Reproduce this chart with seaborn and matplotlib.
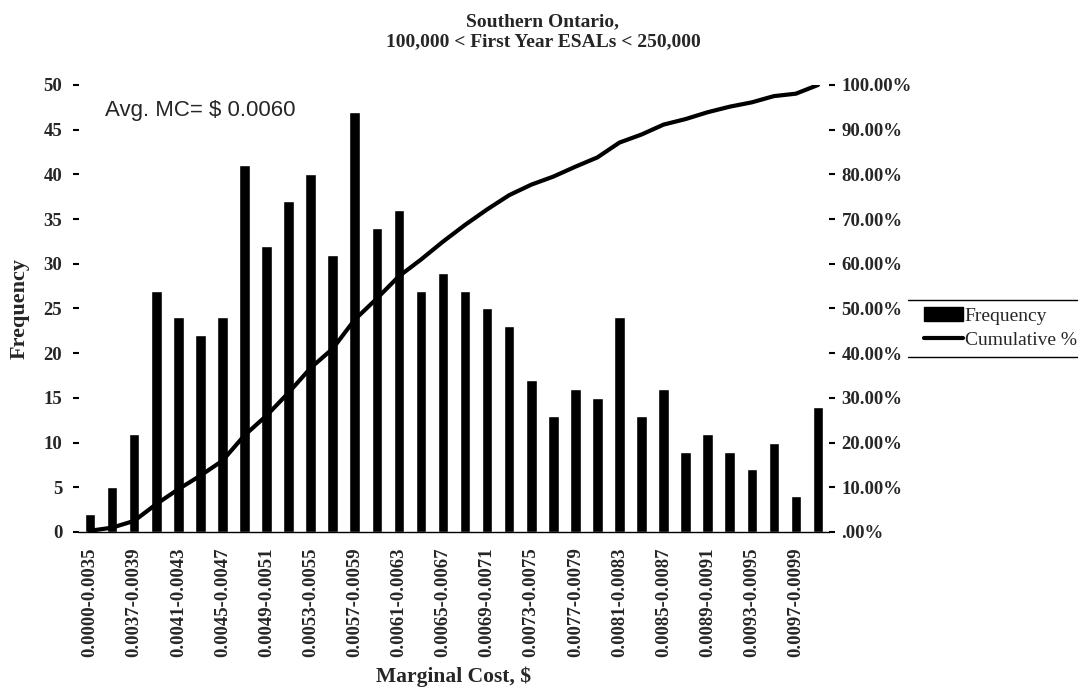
import matplotlib
matplotlib.use("Agg")
import matplotlib.pyplot as plt
import seaborn as sns
import numpy as np
import pandas as pd
from matplotlib.patches import Patch
from matplotlib.lines import Line2D
from matplotlib.ticker import FuncFormatter

# bins of marginal cost ($)
bins = ["0.0000-0.0035", "0.0035-0.0037", "0.0037-0.0039", "0.0039-0.0041",
        "0.0041-0.0043", "0.0043-0.0045", "0.0045-0.0047", "0.0047-0.0049",
        "0.0049-0.0051", "0.0051-0.0053", "0.0053-0.0055", "0.0055-0.0057",
        "0.0057-0.0059", "0.0059-0.0061", "0.0061-0.0063", "0.0063-0.0065",
        "0.0065-0.0067", "0.0067-0.0069", "0.0069-0.0071", "0.0071-0.0073",
        "0.0073-0.0075", "0.0075-0.0077", "0.0077-0.0079", "0.0079-0.0081",
        "0.0081-0.0083", "0.0083-0.0085", "0.0085-0.0087", "0.0087-0.0089",
        "0.0089-0.0091", "0.0091-0.0093", "0.0093-0.0095", "0.0095-0.0097",
        "0.0097-0.0099", "0.0099-0.0101"]

frequency = [2, 5, 11, 27, 24, 22, 24, 41, 32, 37, 40, 31, 47, 34, 36, 27, 29,
             27, 25, 23, 17, 13, 16, 15, 24, 13, 16, 9, 11, 9, 7, 10, 4, 14]

cumulative_pct = [0.28, 0.97, 2.49, 6.23, 9.56, 12.60, 15.93, 21.61, 26.04,
                  31.16, 36.70, 41.00, 47.51, 52.22, 57.20, 60.94, 64.96,
                  68.70, 72.16, 75.35, 77.70, 79.50, 81.72, 83.80, 87.12,
                  88.92, 91.14, 92.38, 93.91, 95.15, 96.12, 97.51, 98.06, 100.00]

df = pd.DataFrame({"bin": bins, "freq": frequency, "cum": cumulative_pct})

sns.set_style("white")
plt.rcParams["font.family"] = ["Liberation Serif", "DejaVu Serif"]

fig = plt.figure(figsize=(10.78, 6.93), dpi=100)
ax = fig.add_axes([79 / 1078, 1 - 532 / 693, (829 - 79) / 1078, (532 - 85) / 693])

sns.barplot(data=df, x="bin", y="freq", color="black", saturation=1,
            width=0.48, ax=ax)
ax.set_xlim(-0.5, len(bins) - 0.5)
ax.set_ylim(0, 50)
ax.set_yticks(range(0, 51, 5))

# cumulative % on secondary axis
ax2 = ax.twinx()
sns.lineplot(x=np.arange(len(bins)), y=df["cum"], color="black", linewidth=3,
             ax=ax2)
ax2.set_ylim(0, 100)
ax2.set_yticks(range(0, 101, 10))
ax2.yaxis.set_major_formatter(FuncFormatter(
    lambda v, p: ".00%" if v == 0 else f"{v:.2f}%"))
ax2.set_ylabel("")

for a in (ax, ax2):
    for s in ("top", "left", "right"):
        a.spines[s].set_visible(False)
ax.spines["bottom"].set_visible(True)
ax.spines["bottom"].set_color("black")
ax.spines["bottom"].set_linewidth(1)
ax2.spines["bottom"].set_visible(False)

# x ticks: label every other bin, tick marks between bins
ax.set_xticks(range(0, len(bins), 2))
ax.set_xticklabels(bins[::2], rotation=90, fontsize=13.5, fontweight="bold")
ax.tick_params(axis="x", length=0, pad=11)
ax.set_xticks(np.arange(-0.5, len(bins), 1), minor=True)
ax.tick_params(axis="x", which="minor", length=3, width=1.2, direction="inout",
               color="black")

ax.tick_params(axis="y", left=True, length=4, width=1.5, color="black",
               labelsize=13.5, pad=8)
for t in ax.get_yticklabels():
    t.set_fontweight("bold")
ax2.tick_params(axis="y", right=True, length=4, width=1.5, color="black",
                labelsize=13.5, pad=5)
for t in ax2.get_yticklabels():
    t.set_fontweight("bold")

ax.set_xlabel("Marginal Cost, $", fontsize=15.5, fontweight="bold", labelpad=7)
ax.set_ylabel("Frequency", fontsize=16, fontweight="bold", labelpad=10)

ax.text(0.68, 47.2, "Avg. MC= $ 0.0060", fontsize=16, family="Liberation Sans",
        va="center", ha="left")

fig.text(543 / 1078, 1 - 32 / 693, "Southern Ontario,\n100,000 < First Year ESALs < 250,000",
         ha="center", va="center", fontsize=14, fontweight="bold", linespacing=1.25)

handles = [Patch(facecolor="black", edgecolor="black", label="Frequency"),
           Line2D([0], [0], color="black", linewidth=3, label="Cumulative %")]
fig.legend(handles=handles, loc="upper left",
           bbox_to_anchor=(924 / 1078, 1 - 307 / 693), frameon=False,
           fontsize=14, handlelength=2.0, handletextpad=0.1,
           borderpad=0, borderaxespad=0, labelspacing=0.35)
for yy in (300, 357):
    fig.add_artist(Line2D([908 / 1078, 1], [1 - yy / 693] * 2,
                          color="black", linewidth=1, transform=fig.transFigure))

fig.savefig("out.png", dpi=100)
